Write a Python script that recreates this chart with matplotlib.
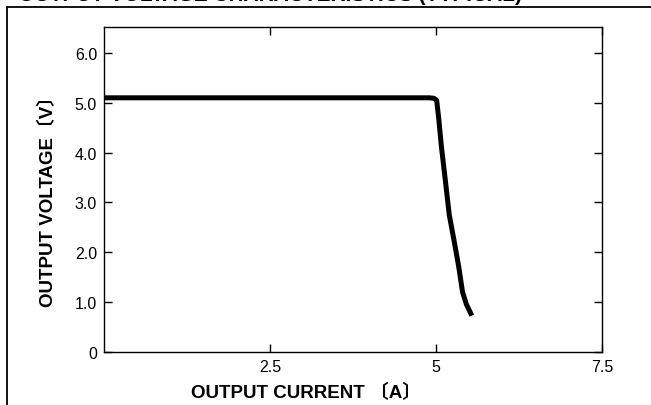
import matplotlib
matplotlib.use("Agg")
import matplotlib.pyplot as plt
from matplotlib.lines import Line2D

# curve
current = [0.0, 2.5, 4.90, 4.97, 5.01, 5.04, 5.08, 5.14, 5.20, 5.27, 5.34, 5.40, 5.46, 5.54]
voltage = [5.10, 5.10, 5.10, 5.09, 5.05, 4.70, 4.14, 3.45, 2.75, 2.25, 1.73, 1.20, 0.95, 0.73]

x_ticks = [2.5, 5, 7.5]
x_tick_labels = ["2.5", "5", "7.5"]
y_ticks = [0, 1, 2, 3, 4, 5, 6]
y_tick_labels = ["0", "1.0", "2.0", "3.0", "4.0", "5.0", "6.0"]

plt.rcParams['font.family'] = ['Liberation Sans', 'Noto Sans CJK JP', 'DejaVu Sans']


def main():
    fig = plt.figure(figsize=(6.51, 4.06), dpi=100)
    ax = fig.add_axes([0.1598, 0.1305, 0.7649, 0.8005])

    ax.plot(current, voltage, color='black', linewidth=3.6,
            solid_capstyle='butt', solid_joinstyle='round')

    ax.set_xlim(0, 7.5)
    ax.set_ylim(0, 6.52)
    ax.set_xticks(x_ticks)
    ax.set_xticklabels(x_tick_labels)
    ax.set_yticks(y_ticks)
    ax.set_yticklabels(y_tick_labels)
    ax.tick_params(direction='in', length=6, width=1, labelsize=11.5,
                   top=True, right=True, pad=5)
    for sp in ax.spines.values():
        sp.set_linewidth(1.0)

    ax.set_xlabel('OUTPUT CURRENT 〔A〕', fontsize=13.5, fontweight='bold')
    ax.xaxis.set_label_coords(0.406, -0.095)
    ax.set_ylabel('OUTPUT VOLTAGE〔V〕', fontsize=13.5, fontweight='bold')
    ax.yaxis.set_label_coords(-0.095, 0.48)

    # outer frame of the original sheet
    fig.add_artist(Line2D([7 / 651, 7 / 651], [0, 1 - 8 / 406],
                          transform=fig.transFigure, color='black', lw=1.3))
    fig.add_artist(Line2D([7 / 651, 1], [1 - 8 / 406, 1 - 8 / 406],
                          transform=fig.transFigure, color='black', lw=1.3))

    # clipped title at the very top
    fig.text(0.0, 1 - 1 / 406, '■ OUTPUT VOLTAGE CHARACTERISTICS (TYPICAL)',
             fontsize=15, fontweight='bold', va='baseline', ha='left')

    fig.savefig('out.png', dpi=100)


if __name__ == '__main__':
    main()
